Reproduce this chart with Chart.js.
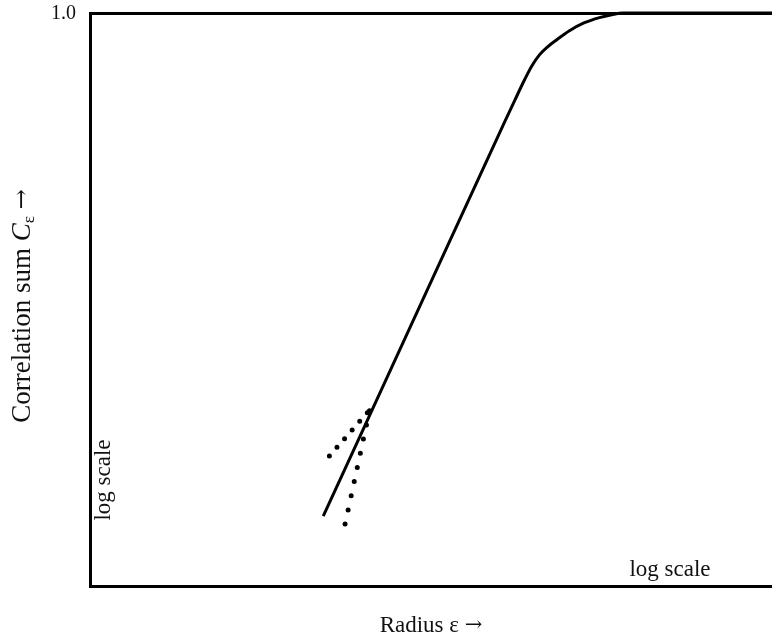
<!DOCTYPE html>
<html>
<head>
<meta charset="utf-8">
<script src="https://cdn.jsdelivr.net/npm/chart.js@4.4.0/dist/chart.umd.min.js"></script>
<style>
  html, body { margin: 0; padding: 0; background: #fff; }
  #wrap { width: 772px; height: 642px; position: relative; }
</style>
</head>
<body>
<div id="wrap"><canvas id="c" width="772" height="642"></canvas></div>
<script>
// Data (arbitrary units: x = log radius, y = log correlation sum, 100 = 1.0)
const curveX = [34.2, 47.5, 60.8, 62.3, 63.7, 64.8, 65.9, 67.1, 68.4, 70.3, 72.5, 74.7, 76.5, 78.1, 100];
const curveY = [12.2, 46.6, 81.0, 84.8, 88.3, 90.8, 92.7, 94.1, 95.3, 96.9, 98.3, 99.2, 99.7, 100, 100];
const shallowX = [35.1, 41.0];
const shallowY = [22.7, 30.7];
const steepX = [37.4, 41.0];
const steepY = [10.8, 30.7];
const yTickValues = [100];
const yTickLabels = ['1.0'];
const xTitleParts = ['Radius ε ', '→'];
const yTitleParts = ['Correlation sum ', 'C', 'ε', ' ', '→'];
const logScaleLabel = 'log scale';

const SERIF = '"Liberation Serif", "DejaVu Serif", serif';
const ARROWF = '"DejaVu Serif", serif';
const toPts = (xs, ys) => xs.map((x, i) => ({ x, y: ys[i] }));

const textPlugin = {
  id: 'texts',
  afterDraw(chart) {
    const ctx = chart.ctx;
    const a = chart.chartArea;
    const ys = chart.scales.y;
    ctx.save();
    ctx.fillStyle = '#111';
    // y tick labels
    ctx.font = '20px ' + SERIF;
    ctx.textAlign = 'right';
    ctx.textBaseline = 'middle';
    yTickValues.forEach((v, i) => ctx.fillText(yTickLabels[i], a.left - 14, ys.getPixelForValue(v) + 1));
    // x title (text + arrow)
    ctx.textAlign = 'left';
    ctx.font = '23px ' + SERIF; const xw0 = ctx.measureText(xTitleParts[0]).width;
    ctx.font = '21px ' + ARROWF; const xw1 = ctx.measureText(xTitleParts[1]).width;
    let xx = (a.left + a.right) / 2 - (xw0 + xw1) / 2;
    ctx.font = '23px ' + SERIF; ctx.fillText(xTitleParts[0], xx, 626);
    ctx.font = '21px ' + ARROWF; ctx.fillText(xTitleParts[1], xx + xw0, 626);
    // bottom-right log scale
    ctx.textAlign = 'center';
    ctx.font = '23px ' + SERIF;
    ctx.fillText(logScaleLabel, 670, 570);
    // left rotated log scale
    ctx.save();
    ctx.translate(104, 480);
    ctx.rotate(-Math.PI / 2);
    ctx.fillText(logScaleLabel, 0, 0);
    ctx.restore();
    // y title with italic C and subscript epsilon
    ctx.save();
    ctx.translate(23, 306);
    ctx.rotate(-Math.PI / 2);
    ctx.textAlign = 'left';
    ctx.textBaseline = 'middle';
    const fonts = ['27px ' + SERIF, 'italic 27px ' + SERIF, '17px ' + SERIF, '27px ' + SERIF, '24px ' + ARROWF];
    const offs = [0, 0, 7, 0, 0];
    const widths = yTitleParts.map((t, i) => { ctx.font = fonts[i]; return ctx.measureText(t).width; });
    let x = -widths.reduce((s, w) => s + w, 0) / 2;
    yTitleParts.forEach((t, i) => { ctx.font = fonts[i]; ctx.fillText(t, x, offs[i]); x += widths[i]; });
    ctx.restore();
    ctx.restore();
  }
};

new Chart(document.getElementById('c'), {
  type: 'line',
  data: {
    datasets: [
      {
        data: toPts(curveX, curveY),
        borderColor: '#000', borderWidth: 3, pointRadius: 0,
        cubicInterpolationMode: 'monotone', fill: false
      },
      {
        data: toPts(shallowX, shallowY),
        borderColor: '#000', borderWidth: 5, pointRadius: 0,
        borderDash: [0, 11.5], borderCapStyle: 'round', fill: false
      },
      {
        data: toPts(steepX, steepY),
        borderColor: '#000', borderWidth: 5, pointRadius: 0,
        borderDash: [0, 14.5], borderCapStyle: 'round', fill: false
      }
    ]
  },
  options: {
    responsive: false,
    animation: false,
    clip: false,
    layout: { padding: { top: 13, right: 0, left: 0, bottom: 0 } },
    plugins: { legend: { display: false }, tooltip: { enabled: false } },
    scales: {
      x: {
        type: 'linear', min: 0, max: 100,
        grid: { display: false },
        border: { display: true, color: '#000', width: 3 },
        ticks: { display: false },
        afterFit(s) { s.height = 56; }
      },
      xTop: {
        type: 'linear', position: 'top', min: 0, max: 100,
        grid: { display: false },
        border: { display: true, color: '#000', width: 3 },
        ticks: { display: false },
        afterFit(s) { s.height = 0; }
      },
      y: {
        type: 'linear', min: 0, max: 100,
        grid: { display: false },
        border: { display: true, color: '#000', width: 3 },
        afterBuildTicks(s) { s.ticks = yTickValues.map(v => ({ value: v })); },
        ticks: { display: false },
        afterFit(s) { s.width = 90; }
      }
    }
  },
  plugins: [textPlugin]
});
</script>
</body>
</html>
